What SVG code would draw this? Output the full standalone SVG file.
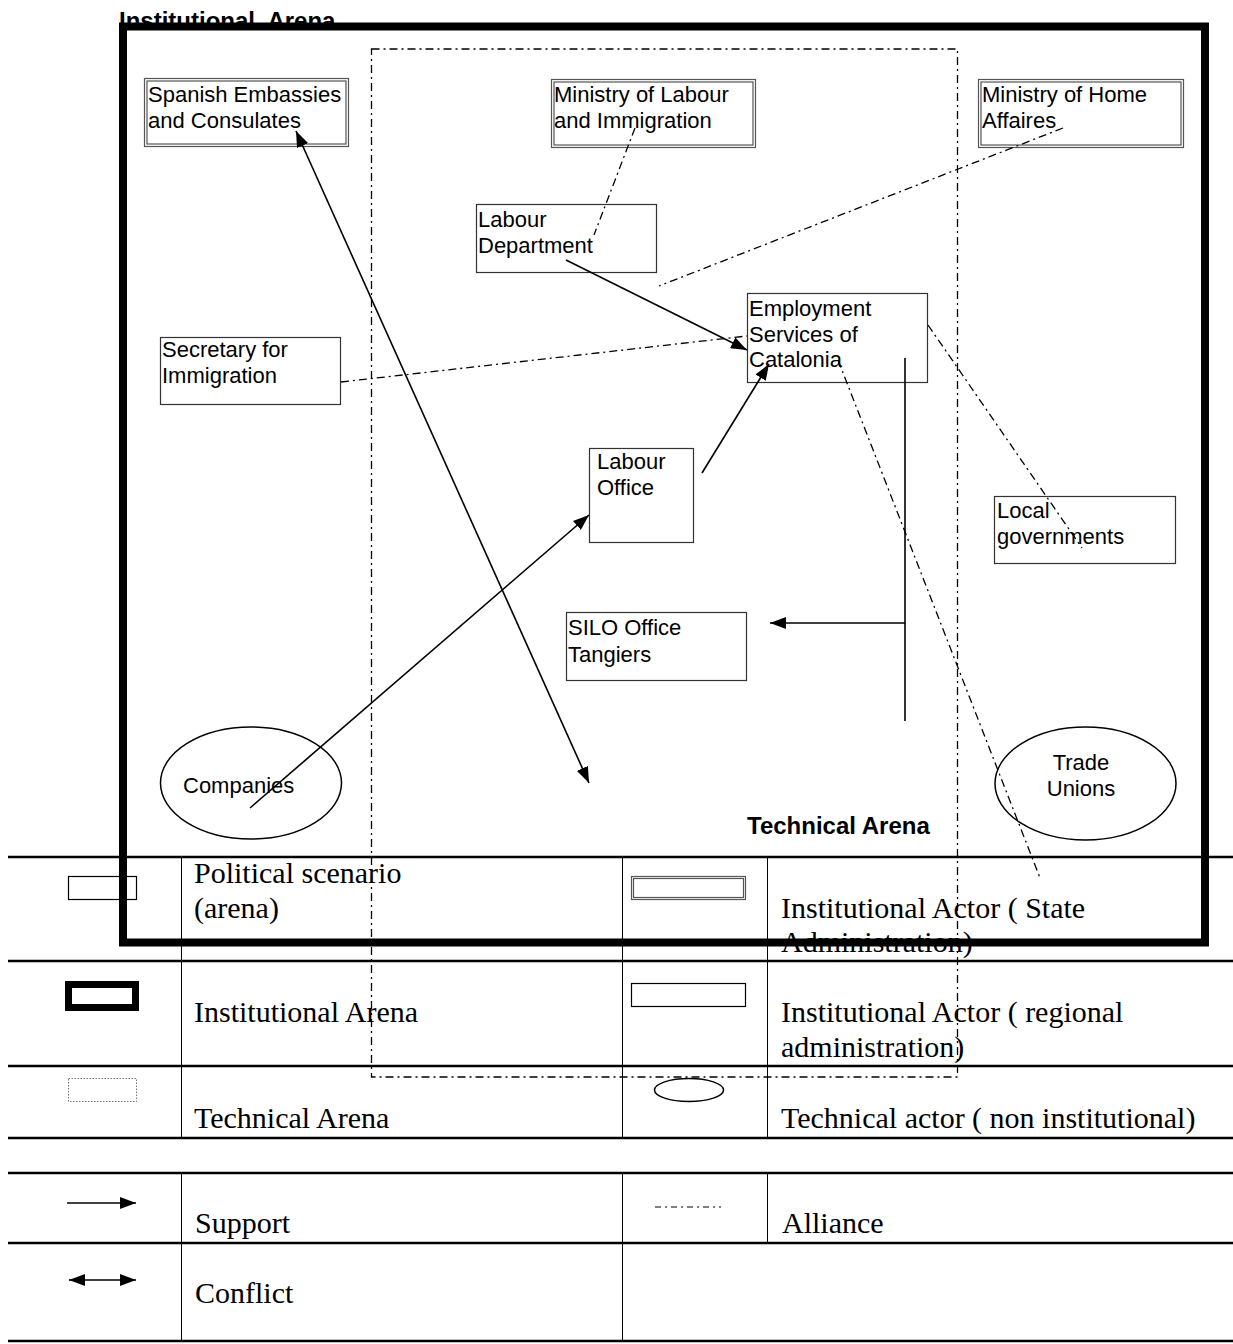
<svg xmlns="http://www.w3.org/2000/svg" width="1233" height="1344" viewBox="0 0 1233 1344">
<style>
.n{font-family:"Liberation Sans",Arial,sans-serif;font-size:22px;fill:#000}
.b{font-family:"Liberation Sans",Arial,sans-serif;font-size:24px;font-weight:bold;fill:#000;white-space:pre}
.lg{font-family:"Liberation Serif","Times New Roman",serif;font-size:30px;fill:#000}
.box{fill:#fff;stroke:#333;stroke-width:1.2}
.dbl{fill:none;stroke:#555;stroke-width:1.2}
.el{fill:none;stroke:#000;stroke-width:1.5}
.al{fill:none;stroke:#000;stroke-width:1.3;stroke-dasharray:8 4 2 4}
.sup{fill:none;stroke:#000;stroke-width:1.6}
.tl{stroke:#000;stroke-width:2.5}
.tv{stroke:#000;stroke-width:1}
</style>
<defs>
<marker id="ah" markerUnits="userSpaceOnUse" viewBox="0 0 16 12" refX="16" refY="6" markerWidth="16" markerHeight="12" orient="auto-start-reverse">
<path d="M0,0 L16,6 L0,12 z" fill="#000"/>
</marker>
</defs>
<g id="legend">
<g id="legend-table-1">
<line class="tl" x1="8" y1="857" x2="1233" y2="857"/>
<line class="tl" x1="8" y1="961" x2="1233" y2="961"/>
<line class="tl" x1="8" y1="1066" x2="1233" y2="1066"/>
<line class="tl" x1="8" y1="1138" x2="1233" y2="1138"/>
<line class="tv" x1="181.5" y1="857" x2="181.5" y2="1138"/>
<line class="tv" x1="622.5" y1="857" x2="622.5" y2="1138"/>
<line class="tv" x1="767.5" y1="857" x2="767.5" y2="1138"/>
<rect x="68.5" y="876.5" width="68" height="23" fill="none" stroke="#000" stroke-width="1.2"/>
<rect x="68.5" y="984.5" width="67" height="23" fill="none" stroke="#000" stroke-width="7"/>
<rect x="68.5" y="1078.5" width="68" height="23" fill="none" stroke="#777" stroke-width="1" stroke-dasharray="1.5 1.5"/>
<rect x="631.5" y="876.5" width="114" height="23" class="dbl"/>
<rect x="633.5" y="878.5" width="110" height="19" class="dbl"/>
<rect x="631.5" y="983.5" width="114" height="23" fill="none" stroke="#000" stroke-width="1.2"/>
<ellipse cx="689" cy="1090" rx="34.5" ry="11.5" class="el"/>
<text class="lg" x="194" y="883">Political scenario</text>
<text class="lg" x="194" y="918">(arena)</text>
<text class="lg" x="194" y="1022">Institutional Arena</text>
<text class="lg" x="194" y="1128">Technical Arena</text>
<text class="lg" x="781" y="918">Institutional Actor ( State</text>
<text class="lg" x="781" y="952">Administration)</text>
<text class="lg" x="781" y="1022">Institutional Actor ( regional</text>
<text class="lg" x="781" y="1057">administration)</text>
<text class="lg" x="781" y="1128">Technical actor ( non institutional)</text>
</g>
<g id="legend-table-2">
<line class="tl" x1="8" y1="1173" x2="1233" y2="1173"/>
<line class="tl" x1="8" y1="1243" x2="1233" y2="1243"/>
<line class="tl" x1="8" y1="1341" x2="1233" y2="1341"/>
<line class="tv" x1="181.5" y1="1173" x2="181.5" y2="1341"/>
<line class="tv" x1="622.5" y1="1173" x2="622.5" y2="1341"/>
<line class="tv" x1="767.5" y1="1173" x2="767.5" y2="1243"/>
<line class="sup" x1="67" y1="1203" x2="136" y2="1203" marker-end="url(#ah)"/>
<line class="sup" x1="69" y1="1280" x2="136" y2="1280" marker-start="url(#ah)" marker-end="url(#ah)"/>
<line x1="655" y1="1207" x2="721" y2="1207" stroke="#000" stroke-width="1.2" stroke-dasharray="6 4 2 4"/>
<text class="lg" x="195" y="1233">Support</text>
<text class="lg" x="782" y="1233">Alliance</text>
<text class="lg" x="195" y="1303">Conflict</text>
</g>
</g>
<g id="arenas">
<text class="b" x="119" y="29">Institutional  Arena</text>
<rect id="institutional-arena" x="123" y="26.5" width="1082" height="916" fill="none" stroke="#000" stroke-width="8"/>
<rect id="technical-arena" x="371.5" y="49" width="586" height="1028" class="al"/>
<text class="b" x="747" y="834">Technical Arena</text>
</g>
<g id="spanish-embassies">
<rect x="144.5" y="78.5" width="204" height="68" class="dbl"/>
<rect x="147" y="81" width="199" height="63" class="dbl"/>
<text class="n" x="148" y="102">Spanish Embassies</text>
<text class="n" x="148" y="128">and Consulates</text>
</g>
<g id="ministry-labour">
<rect x="551.5" y="79.5" width="204" height="68" class="dbl"/>
<rect x="554" y="82" width="199" height="63" class="dbl"/>
<text class="n" x="554" y="102">Ministry of Labour</text>
<text class="n" x="554" y="128">and Immigration</text>
</g>
<g id="ministry-home">
<rect x="978.5" y="79.5" width="205" height="68" class="dbl"/>
<rect x="981" y="82" width="200" height="63" class="dbl"/>
<text class="n" x="982" y="102">Ministry of Home</text>
<text class="n" x="982" y="128">Affaires</text>
</g>
<g id="labour-department">
<rect x="476.5" y="204.5" width="180" height="68" class="box"/>
<text class="n" x="478" y="227">Labour</text>
<text class="n" x="478" y="253">Department</text>
</g>
<g id="employment-services">
<rect x="747.5" y="293.5" width="180" height="89" class="box"/>
<text class="n" x="749" y="316">Employment</text>
<text class="n" x="749" y="342">Services of</text>
<text class="n" x="749" y="367">Catalonia</text>
</g>
<g id="secretary-immigration">
<rect x="160.5" y="337.5" width="180" height="67" class="box"/>
<text class="n" x="162" y="357">Secretary for</text>
<text class="n" x="162" y="383">Immigration</text>
</g>
<g id="labour-office">
<rect x="589.5" y="448.5" width="104" height="94" class="box"/>
<text class="n" x="597" y="469">Labour</text>
<text class="n" x="597" y="495">Office</text>
</g>
<g id="local-governments">
<rect x="994.5" y="496.5" width="181" height="67" class="box"/>
<text class="n" x="997" y="518">Local</text>
<text class="n" x="997" y="544">governments</text>
</g>
<g id="silo-office">
<rect x="566.5" y="612.5" width="180" height="68" class="box"/>
<text class="n" x="568" y="635">SILO Office</text>
<text class="n" x="568" y="662">Tangiers</text>
</g>
<g id="companies">
<ellipse cx="251" cy="783" rx="90.5" ry="56" class="el"/>
<text class="n" x="183" y="793">Companies</text>
</g>
<g id="trade-unions">
<ellipse cx="1085.5" cy="783.5" rx="90.5" ry="56.5" class="el"/>
<text class="n" x="1081" y="770" text-anchor="middle">Trade</text>
<text class="n" x="1081" y="796" text-anchor="middle">Unions</text>
</g>
<g id="connectors">
<line class="sup" x1="296" y1="131" x2="589" y2="783" marker-start="url(#ah)" marker-end="url(#ah)"/>
<line class="sup" x1="566" y1="260" x2="747" y2="350" marker-end="url(#ah)"/>
<line class="sup" x1="702" y1="473" x2="769" y2="364" marker-end="url(#ah)"/>
<line class="sup" x1="250" y1="808" x2="589" y2="515" marker-end="url(#ah)"/>
<line class="sup" x1="905" y1="358" x2="905" y2="721"/>
<line class="sup" x1="905" y1="623" x2="770" y2="623" marker-end="url(#ah)"/>
<line class="al" x1="635" y1="128" x2="594" y2="235"/>
<line class="al" x1="1063" y1="128" x2="659" y2="286"/>
<line class="al" x1="341" y1="382" x2="747" y2="336"/>
<line class="al" x1="928" y1="325" x2="1082" y2="548"/>
<line class="al" x1="838" y1="360" x2="1040" y2="878"/>
</g>
</svg>
